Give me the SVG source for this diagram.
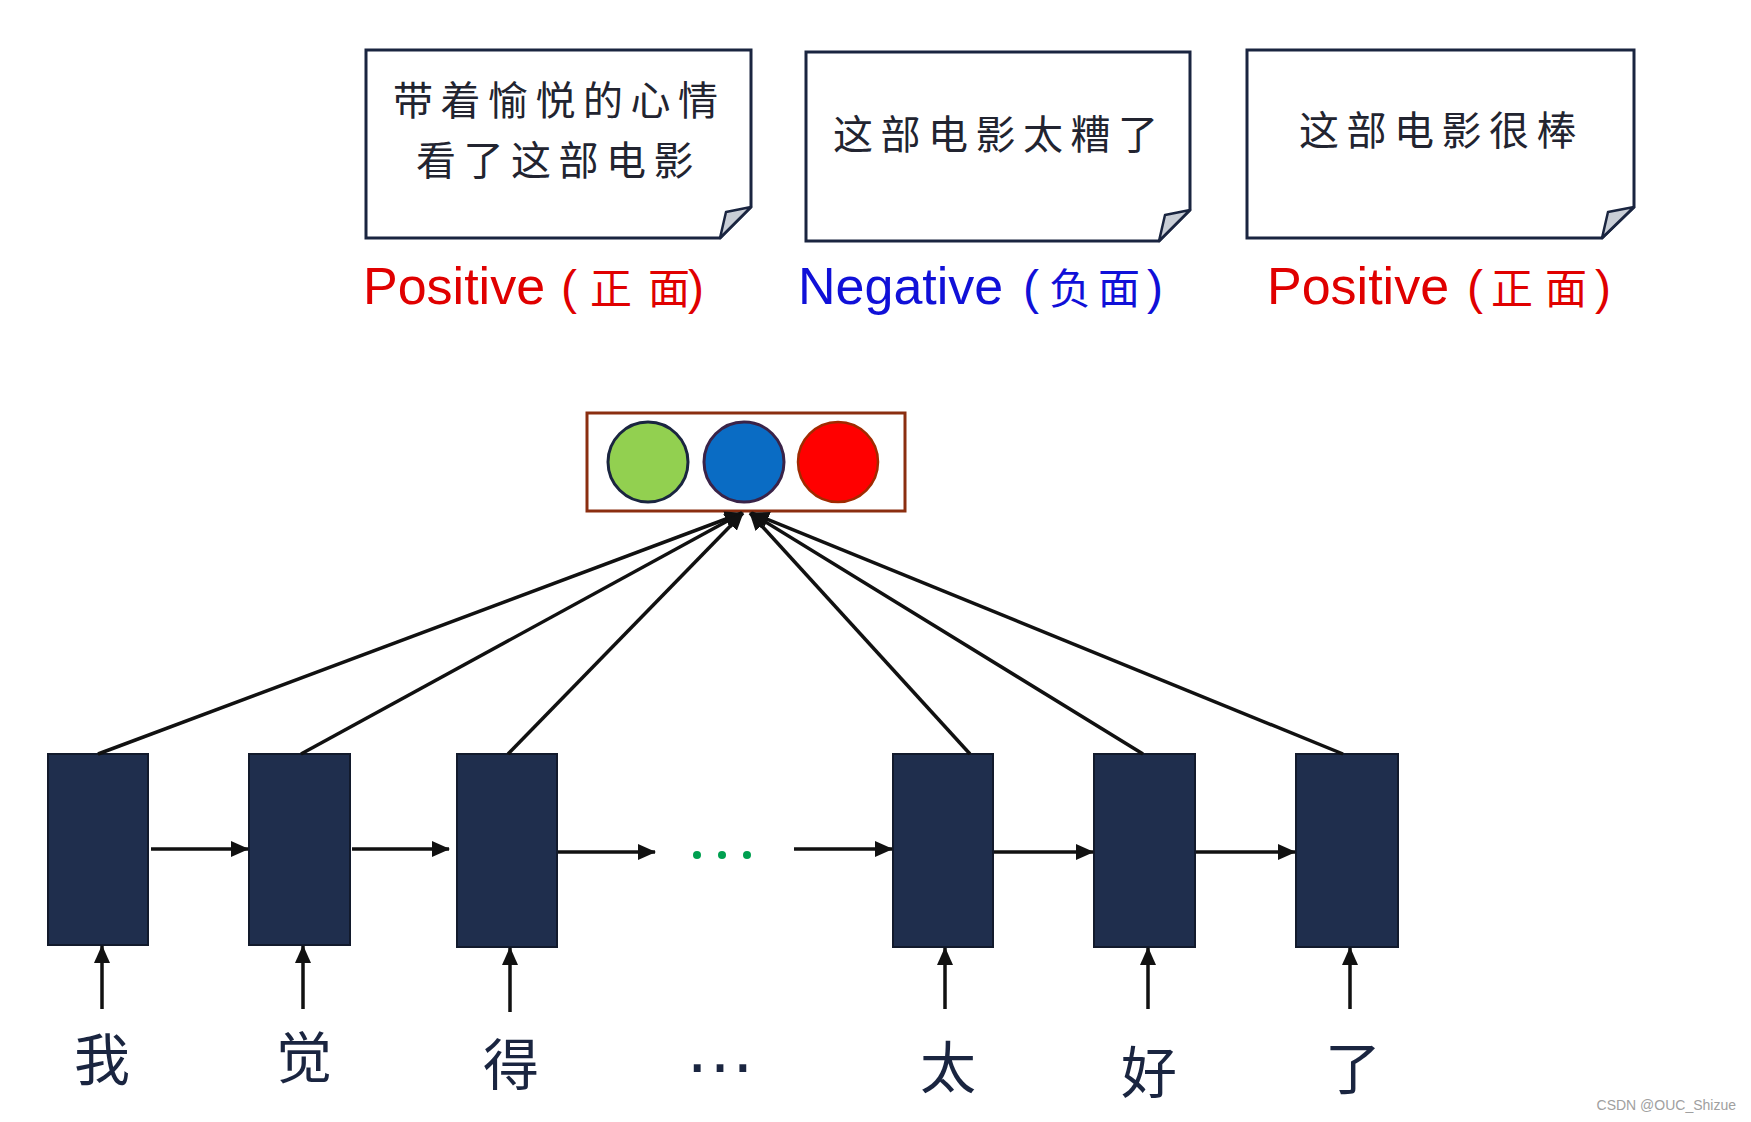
<svg xmlns="http://www.w3.org/2000/svg" width="1751" height="1122" viewBox="0 0 1751 1122">
<style>
.card{fill:#ffffff;stroke:#1a2540;stroke-width:3;stroke-linejoin:miter}
.fold{fill:#c9ced6;stroke:#1a2540;stroke-width:2.5;stroke-linejoin:round}
.ctext{font-family:"Noto Sans CJK SC","Noto Sans CJK TC",sans-serif;font-size:40px;fill:#222430;letter-spacing:7.5px}
.lbl{font-family:"Liberation Sans",Arial,sans-serif;font-size:52px}
.paren{font-family:"Liberation Sans",Arial,sans-serif;font-size:48px}
.lcjk{font-family:"Noto Sans CJK SC",sans-serif;font-size:42px}
.cell{fill:#1f2e4d;stroke:#121a2c;stroke-width:2}
.conn{stroke:#111111;stroke-width:3.5;fill:none}
.word{font-family:"Noto Sans CJK SC","Noto Sans CJK TC",sans-serif;font-size:56px;fill:#1a2540;text-anchor:middle}
</style>
<defs>
<marker id="ah" markerUnits="userSpaceOnUse" markerWidth="18" markerHeight="16" refX="17" refY="8" orient="auto">
<path d="M0,0 L18,8 L0,16 z" fill="#111111"/>
</marker>
</defs>
<rect x="0" y="0" width="1751" height="1122" fill="#ffffff"/>

<g id="card-a">
<path class="card" d="M366,50 H751 V207 L720,238 H366 Z"/>
<path class="fold" d="M720,238 L751,207 L726,212 Z"/>
<text class="ctext" x="393" y="115">带着愉悦的心情</text>
<text class="ctext" x="416" y="175">看了这部电影</text>
</g>
<g id="card-b">
<path class="card" d="M806,52 H1190 V210 L1159,241 H806 Z"/>
<path class="fold" d="M1159,241 L1190,210 L1165,215 Z"/>
<text class="ctext" x="833" y="149">这部电影太糟了</text>
</g>
<g id="card-c">
<path class="card" d="M1247,50 H1634 V207 L1602,238 H1247 Z"/>
<path class="fold" d="M1602,238 L1634,207 L1608,212 Z"/>
<text class="ctext" x="1299" y="145">这部电影很棒</text>
</g>

<g id="label-a">
<text y="304" fill="#e00000"><tspan class="lbl" x="363">Positive</tspan><tspan class="paren" x="561">(</tspan><tspan class="lcjk" x="590 648">正面</tspan><tspan class="paren" x="688">)</tspan></text>
</g>
<g id="label-b">
<text y="304" fill="#1010d8"><tspan class="lbl" x="798">Negative</tspan><tspan class="paren" x="1023">(</tspan><tspan class="lcjk" x="1049 1098">负面</tspan><tspan class="paren" x="1147">)</tspan></text>
</g>
<g id="label-c">
<text y="304" fill="#e00000"><tspan class="lbl" x="1267">Positive</tspan><tspan class="paren" x="1467">(</tspan><tspan class="lcjk" x="1491 1545">正面</tspan><tspan class="paren" x="1595">)</tspan></text>
</g>

<g id="output">
<rect x="587" y="413" width="318" height="98" fill="#ffffff" stroke="#8b2e10" stroke-width="3"/>
<circle cx="648" cy="462" r="40" fill="#92d050" stroke="#1a2540" stroke-width="3"/>
<circle cx="744" cy="462" r="40" fill="#0a6cc4" stroke="#3a2348" stroke-width="3"/>
<circle cx="838" cy="462" r="40" fill="#ff0000" stroke="#a02a00" stroke-width="2.5"/>
</g>

<g id="cell-1"><rect class="cell" x="48" y="754" width="100" height="191"/></g>
<g id="cell-2"><rect class="cell" x="249" y="754" width="101" height="191"/></g>
<g id="cell-3"><rect class="cell" x="457" y="754" width="100" height="193"/></g>
<g id="cell-4"><rect class="cell" x="893" y="754" width="100" height="193"/></g>
<g id="cell-5"><rect class="cell" x="1094" y="754" width="101" height="193"/></g>
<g id="cell-6"><rect class="cell" x="1296" y="754" width="102" height="193"/></g>

<g id="ellipsis-dots">
<circle cx="697" cy="855" r="4" fill="#00a050"/>
<circle cx="722" cy="855" r="4" fill="#00a050"/>
<circle cx="747" cy="855" r="4" fill="#00a050"/>
</g>

<g id="connectors">
<line class="conn" x1="98" y1="754" x2="742" y2="513" marker-end="url(#ah)"/>
<line class="conn" x1="301" y1="754" x2="742" y2="513" marker-end="url(#ah)"/>
<line class="conn" x1="508" y1="754" x2="743" y2="513" marker-end="url(#ah)"/>
<line class="conn" x1="970" y1="754" x2="750" y2="513" marker-end="url(#ah)"/>
<line class="conn" x1="1143" y1="754" x2="751" y2="513" marker-end="url(#ah)"/>
<line class="conn" x1="1343" y1="754" x2="752" y2="513" marker-end="url(#ah)"/>

<line class="conn" x1="151" y1="849" x2="248" y2="849" marker-end="url(#ah)"/>
<line class="conn" x1="352" y1="849" x2="449" y2="849" marker-end="url(#ah)"/>
<line class="conn" x1="558" y1="852" x2="655" y2="852" marker-end="url(#ah)"/>
<line class="conn" x1="794" y1="849" x2="892" y2="849" marker-end="url(#ah)"/>
<line class="conn" x1="994" y1="852" x2="1093" y2="852" marker-end="url(#ah)"/>
<line class="conn" x1="1196" y1="852" x2="1295" y2="852" marker-end="url(#ah)"/>

<line class="conn" x1="102" y1="1009" x2="102" y2="946" marker-end="url(#ah)"/>
<line class="conn" x1="303" y1="1009" x2="303" y2="946" marker-end="url(#ah)"/>
<line class="conn" x1="510" y1="1012" x2="510" y2="948" marker-end="url(#ah)"/>
<line class="conn" x1="945" y1="1009" x2="945" y2="948" marker-end="url(#ah)"/>
<line class="conn" x1="1148" y1="1009" x2="1148" y2="948" marker-end="url(#ah)"/>
<line class="conn" x1="1350" y1="1009" x2="1350" y2="948" marker-end="url(#ah)"/>
</g>

<g id="words">
<text class="word" x="102" y="1080">我</text>
<text class="word" x="304" y="1078">觉</text>
<text class="word" x="511" y="1085">得</text>
<text x="720" y="1072" font-family="Liberation Sans, Arial, sans-serif" font-size="72" fill="#1a2540" text-anchor="middle">…</text>
<text class="word" x="948" y="1088">太</text>
<text class="word" x="1149" y="1093">好</text>
<text class="word" x="1353" y="1089">了</text>
</g>

<text x="1736" y="1110" font-family="Liberation Sans, Arial, sans-serif" font-size="14" fill="#a0a0a0" text-anchor="end">CSDN @OUC_Shizue</text>
</svg>
